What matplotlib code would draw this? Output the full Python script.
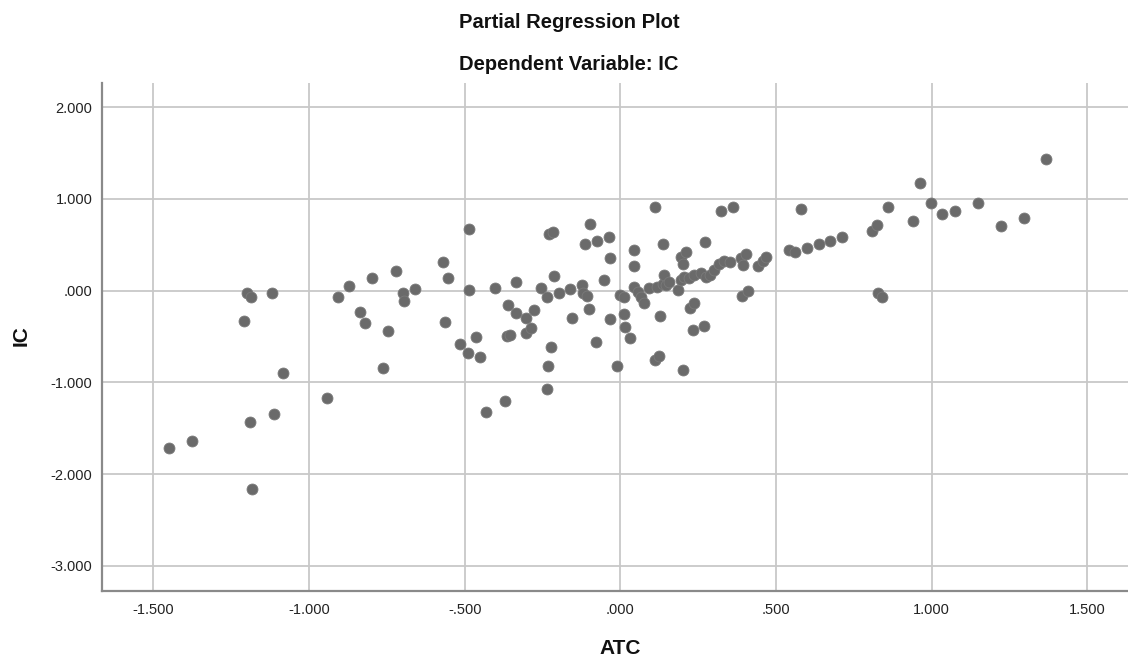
import matplotlib
matplotlib.use("Agg")
import matplotlib.pyplot as plt
from matplotlib.ticker import FixedLocator, FuncFormatter

# ---- data ----
atc = [
    -1.450, -1.375, -1.210, -1.198, -1.186, -1.188, -1.182, -1.119, -1.113, -1.085,
    -0.941, -0.908, -0.872, -0.835, -0.820, -0.797, -0.763, -0.745, -0.722, -0.699,
    -0.696, -0.660,
    -0.570, -0.552, -0.563, -0.516, -0.490, -0.485, -0.485, -0.462, -0.450, -0.433,
    -0.404, -0.370, -0.362, -0.365, -0.355, -0.335, -0.335, -0.303, -0.277, -0.303,
    -0.286, -0.254, -0.235, -0.228, -0.217, -0.224, -0.233, -0.237, -0.213, -0.198,
    -0.161, -0.155, -0.123, -0.119, -0.106, -0.100, -0.112, -0.096, -0.079, -0.074,
    -0.051, -0.037, -0.033, -0.033, -0.011,
    0.000, 0.013, 0.013, 0.014, 0.030, 0.043, 0.043, 0.045, 0.056, 0.066,
    0.077, 0.093, 0.112, 0.117, 0.111, 0.124, 0.128, 0.136, 0.138, 0.141,
    0.147, 0.157, 0.184, 0.195, 0.195, 0.205, 0.222, 0.200, 0.211, 0.200,
    0.224, 0.238, 0.232, 0.238, 0.259, 0.270, 0.273, 0.275, 0.288, 0.302,
    0.318, 0.323, 0.334, 0.353, 0.362, 0.387, 0.393, 0.403, 0.391, 0.409,
    0.441, 0.457, 0.468,
    0.543, 0.562, 0.581, 0.599, 0.637, 0.674, 0.712, 0.808, 0.826, 0.828,
    0.842, 0.860, 0.941, 0.963, 0.998, 1.035, 1.074, 1.148, 1.223, 1.298,
    1.369,
]
ic = [
    -1.719, -1.636, -0.327, -0.022, -0.072, -1.428, -2.159, -0.022, -1.348, -0.901,
    -1.174, -0.072, 0.055, -0.236, -0.356, 0.138, -0.846, -0.443, 0.218, -0.022,
    -0.109, 0.015,
    0.313, 0.135, -0.338, -0.585, -0.683, 0.673, 0.008, -0.502, -0.720, -1.326,
    0.033, -1.200, -0.160, -0.495, -0.480, 0.098, -0.240, -0.294, -0.210, -0.465,
    -0.407, 0.026, -0.069, 0.620, 0.635, -0.617, -0.821, -1.072, 0.164, -0.029,
    0.015, -0.301, 0.062, -0.029, -0.058, -0.203, 0.509, 0.727, -0.556, 0.545,
    0.117, 0.589, 0.357, -0.312, -0.821,
    -0.047, -0.065, -0.254, -0.399, -0.516, 0.440, 0.266, 0.044, -0.010, -0.065,
    -0.130, 0.026, 0.916, 0.044, -0.756, -0.713, -0.276, 0.070, 0.509, 0.171,
    0.062, 0.098, 0.008, 0.120, 0.371, 0.145, 0.135, 0.288, 0.425, -0.865,
    -0.192, -0.138, -0.429, 0.171, 0.190, -0.382, 0.534, 0.153, 0.171, 0.226,
    0.288, 0.872, 0.324, 0.310, 0.916, 0.353, 0.280, 0.397, -0.055, -0.003,
    0.273, 0.324, 0.371,
    0.444, 0.420, 0.891, 0.462, 0.506, 0.545, 0.589, 0.654, 0.716, -0.029,
    -0.072, 0.916, 0.763, 1.171, 0.953, 0.833, 0.872, 0.953, 0.706, 0.790,
    1.436,
]
x_ticks = [-1.5, -1.0, -0.5, 0.0, 0.5, 1.0, 1.5]
y_ticks = [2.0, 1.0, 0.0, -1.0, -2.0, -3.0]
title = "Partial Regression Plot"
subtitle = "Dependent Variable: IC"
x_label = "ATC"
y_label = "IC"

plt.rcParams['font.family'] = ['Liberation Sans', 'DejaVu Sans']

W, H = 1128, 660
fig = plt.figure(figsize=(W / 100, H / 100), dpi=100)
ax = fig.add_axes([102 / W, (H - 591) / H, (W - 102) / W, (591 - 83) / H])

ax.scatter(atc, ic, s=62, color='#6a6a6a', edgecolors='#7a7a7a', linewidths=0.6, zorder=3)

ax.set_xlim(-1.665, 1.631)
ax.set_ylim(-3.276, 2.265)


def spss_fmt(v, pos=None):
    s = f"{v:.3f}"
    if s.startswith("0."):
        s = s[1:]
    elif s.startswith("-0."):
        s = "-" + s[2:]
    if s == "-.000":
        s = ".000"
    return s


ax.xaxis.set_major_locator(FixedLocator(x_ticks))
ax.yaxis.set_major_locator(FixedLocator(y_ticks))
ax.xaxis.set_major_formatter(FuncFormatter(spss_fmt))
ax.yaxis.set_major_formatter(FuncFormatter(spss_fmt))
ax.tick_params(axis='both', length=0, labelsize=10.5, colors='#222222')
ax.tick_params(axis='x', pad=9)
ax.tick_params(axis='y', pad=7)

ax.grid(True, color='#c8c8c8', linewidth=1.3, zorder=0)
ax.set_axisbelow(True)
for side in ('top', 'right'):
    ax.spines[side].set_visible(False)
for side in ('left', 'bottom'):
    ax.spines[side].set_color('#8a8a8a')
    ax.spines[side].set_linewidth(1.6)

# axis titles placed where the reference shows them
fig.text(620 / W, 1 - 648 / H, x_label, ha='center', va='center', fontsize=15,
         fontweight='bold', color='#111111')
fig.text(21 / W, 1 - 336 / H, y_label, ha='center', va='center', fontsize=15,
         fontweight='bold', color='#111111', rotation=90)

fig.text(569 / W, 1 - 22 / H, title, ha='center', va='center', fontsize=14.5,
         fontweight='bold', color='#111111')
fig.text(569 / W, 1 - 64 / H, subtitle, ha='center', va='center', fontsize=14.5,
         fontweight='bold', color='#111111')

fig.savefig('out.png', dpi=100)
